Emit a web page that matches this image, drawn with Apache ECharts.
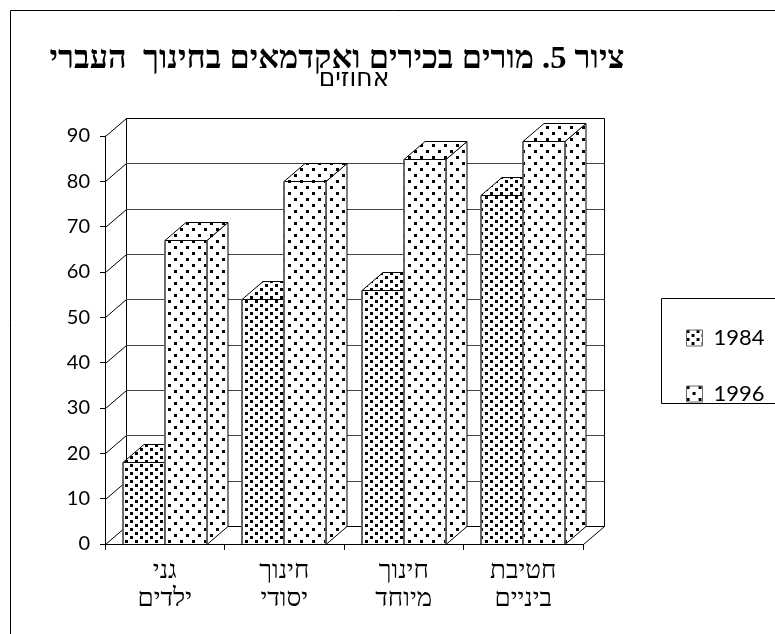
<!DOCTYPE html>
<html><head><meta charset="utf-8">
<style>html,body{margin:0;padding:0;background:#fff}#c{width:775px;height:634px}</style>
<script src="https://cdn.jsdelivr.net/npm/echarts@6/dist/echarts.min.js"></script>
</head><body><div id="c"></div>
<script>
const categories = ['גני\nילדים', 'חינוך\nיסודי', 'חינוך\nמיוחד', 'חטיבת\nביניים'];
const seriesNames = ['1984', '1996'];
const values1984 = [18, 54, 56, 77];
const values1996 = [67, 80, 85, 89];
const yTicks = [0, 10, 20, 30, 40, 50, 60, 70, 80, 90];
const titleText = 'ציור 5. מורים בכירים ואקדמאים בחינוך  העברי';
const subtitleText = 'אחוזים';

const DX = 21, DY = 18, BAR_FRACTION = 0.35;
const snap = v => Math.round(v) + 0.5;

function dots(tw, th, size) {
  const c = document.createElement('canvas');
  c.width = tw; c.height = th;
  const g = c.getContext('2d');
  g.fillStyle = '#fff'; g.fillRect(0, 0, tw, th);
  g.fillStyle = '#000';
  g.fillRect(0, 0, size, size);
  g.fillRect(tw / 2, th / 2, size, size);
  return { image: c, repeat: 'repeat' };
}
const dense = dots(10, 8, 3), sparse = dots(12, 12, 3);

function line(x1, y1, x2, y2, color, width) {
  return { type: 'line', shape: { x1, y1, x2, y2 }, style: { stroke: color, lineWidth: width || 1 } };
}

function wallItem(params, api) {
  const v = api.value(1), cs = params.coordSys;
  const y = snap(api.coord([0, v])[1]), L = snap(cs.x), R = snap(cs.x + cs.width);
  const isTop = v === yTicks[yTicks.length - 1], isBase = v === 0;
  const kids = [
    line(L, y, L + DX, y - DY, '#000'),
    line(L + DX, y - DY, R + DX, y - DY, (isTop || isBase) ? '#000' : '#444', 1)
  ];
  if (isBase) {
    kids.push(line(R, y, R + DX, y - DY, '#000'));
    const top = snap(cs.y) - DY;
    kids.push(line(L + DX, y - DY, L + DX, top, '#000'));
    kids.push(line(R + DX, y - DY, R + DX, top, '#000'));
  }
  return { type: 'group', children: kids };
}

function barRenderer(side, fill) {
  return function (params, api) {
    const c = api.coord([api.value(0), api.value(1)]);
    const base = api.coord([api.value(0), 0]);
    const w = Math.round(api.size([1, 0])[0] * BAR_FRACTION);
    const cx = Math.round(c[0]);
    const x0 = side < 0 ? cx - w : cx, x1 = x0 + w;
    const t = snap(c[1]), b = snap(base[1]);
    const st = { fill, stroke: '#000', lineWidth: 1 };
    return { type: 'group', children: [
      { type: 'polygon', shape: { points: [[x1, t], [x1 + DX, t - DY], [x1 + DX, b - DY], [x1, b]] }, style: st },
      { type: 'polygon', shape: { points: [[x0, t], [x0 + DX, t - DY], [x1 + DX, t - DY], [x1, t]] }, style: st },
      { type: 'rect', shape: { x: x0, y: t, width: w, height: b - t }, style: st },
      line(x0, t, x0, b, '#666', 1.6),
      line(x1, t, x1, b, '#666', 1.6)
    ] };
  };
}

const chart = echarts.init(document.getElementById('c'), null, { renderer: 'canvas' });
chart.setOption({
  animation: false,
  backgroundColor: '#fff',
  title: [
    { text: titleText, left: 332, top: 38, textAlign: 'center',
      textStyle: { fontFamily: 'Liberation Serif', fontWeight: 'bold', fontSize: 32.5, color: '#000' } },
    { text: subtitleText, left: 349, top: 62, textAlign: 'center',
      textStyle: { fontFamily: 'DejaVu Sans', fontWeight: 'normal', fontSize: 25, color: '#000' } }
  ],
  grid: { left: 105, top: 136, width: 478, height: 408 },
  xAxis: {
    type: 'category', data: categories,
    axisLine: { lineStyle: { color: '#000' } },
    axisTick: { show: true, alignWithLabel: false, length: 6, lineStyle: { color: '#000' } },
    axisLabel: { fontFamily: 'Liberation Serif', fontSize: 26, lineHeight: 28, color: '#000', margin: 13 },
    z: 5
  },
  yAxis: {
    type: 'value', min: 0, max: 90, interval: 10,
    splitLine: { show: false },
    axisLine: { show: true, lineStyle: { color: '#000' } },
    axisTick: { show: true, length: 5, lineStyle: { color: '#000' } },
    axisLabel: { fontFamily: 'Lato', fontSize: 20, color: '#000', margin: 15 }
  },
  legend: {
    orient: 'vertical', left: 681, top: 322,
    itemWidth: 16, itemHeight: 16, itemGap: 34,
    icon: 'rect', selectedMode: false,
    data: [
      { name: seriesNames[0], itemStyle: { color: dense, borderColor: '#666', borderWidth: 1 } },
      { name: seriesNames[1], itemStyle: { color: sparse, borderColor: '#666', borderWidth: 1 } }
    ],
    textStyle: { fontFamily: 'Lato', fontSize: 22, color: '#000', padding: [0, 0, 0, 6] }
  },
  graphic: [
    { type: 'rect', z: -10, silent: true, shape: { x: 10.5, y: 10.5, width: 800, height: 700 },
      style: { fill: 'none', stroke: '#000', lineWidth: 1 } },
    { type: 'rect', z: -10, silent: true, shape: { x: 661.5, y: 298.5, width: 130, height: 105 },
      style: { fill: '#fff', stroke: '#000', lineWidth: 1 } }
  ],
  series: [
    { type: 'custom', name: 'wall', silent: true, z: 1, clip: false,
      data: yTicks.map(v => [0, v]), renderItem: wallItem },
    { type: 'custom', name: seriesNames[0], z: 2, clip: false,
      data: values1984.map((v, i) => [i, v]), renderItem: barRenderer(-1, dense) },
    { type: 'custom', name: seriesNames[1], z: 3, clip: false,
      data: values1996.map((v, i) => [i, v]), renderItem: barRenderer(1, sparse) }
  ]
});
</script></body></html>
